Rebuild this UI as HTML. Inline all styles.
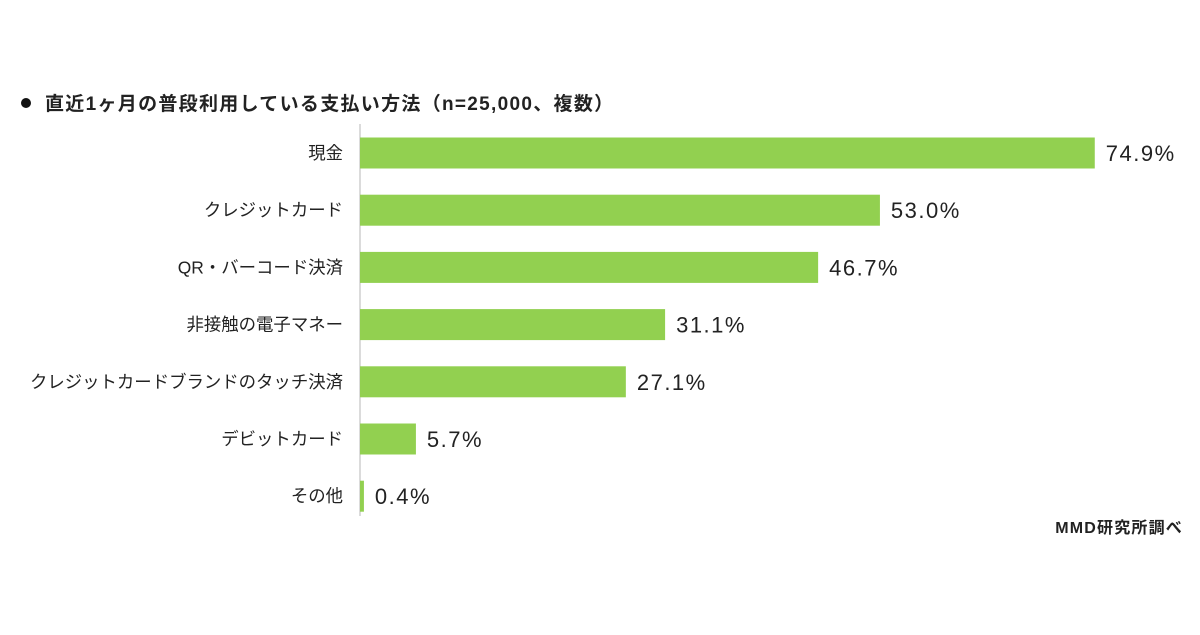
<!DOCTYPE html>
<html><head><meta charset="utf-8"><style>
body{margin:0;background:#fff;}
svg text{font-family:"Liberation Sans","Noto Sans CJK JP",sans-serif;fill:#222;}
</style></head><body>
<svg width="1200" height="630">
<circle cx="26" cy="103" r="5" fill="#111"/>
<text x="45" y="110" font-size="19" font-weight="bold" letter-spacing="1.3">直近1ヶ月の普段利用している支払い方法（n=25,000、複数）</text>
<line x1="360" y1="124" x2="360" y2="516" stroke="#cfcfcf" stroke-width="1.5"/>
<g id="bars"></g>
<text x="1183" y="533" font-size="16" font-weight="bold" letter-spacing="1.2" text-anchor="end">MMD研究所調べ</text>
</svg>
<script>
const categories=["現金","クレジットカード","QR・バーコード決済","非接触の電子マネー","クレジットカードブランドのタッチ決済","デビットカード","その他"];
const values=[74.9,53.0,46.7,31.1,27.1,5.7,0.4];
const labels=["74.9%","53.0%","46.7%","31.1%","27.1%","5.7%","0.4%"];
const x0=360, pxPer=9.81, yStart=153, step=57.2, bh=31;
const xs=v=>x0+v*pxPer;
const ys=i=>yStart+i*step;
const g=document.getElementById('bars');
const NS='http://www.w3.org/2000/svg';
categories.forEach((c,i)=>{
  const cy=ys(i);
  const r=document.createElementNS(NS,'rect');
  r.setAttribute('x',x0);r.setAttribute('y',cy-bh/2);
  r.setAttribute('width',xs(values[i])-x0);r.setAttribute('height',bh);
  r.setAttribute('fill','#92d050');
  
  
  g.appendChild(r);
  const t=document.createElementNS(NS,'text');
  t.setAttribute('x',343);t.setAttribute('y',cy+6);
  t.setAttribute('font-size','17.4');t.setAttribute('text-anchor','end');
  t.textContent=c;
  
  
  g.appendChild(t);
  const v=document.createElementNS(NS,'text');
  v.setAttribute('x',xs(values[i])+11);v.setAttribute('y',cy+8);
  v.setAttribute('font-size','22');
  v.setAttribute('letter-spacing','1.5');
  v.textContent=labels[i];
  
  
  g.appendChild(v);
});
</script>
</body></html>
